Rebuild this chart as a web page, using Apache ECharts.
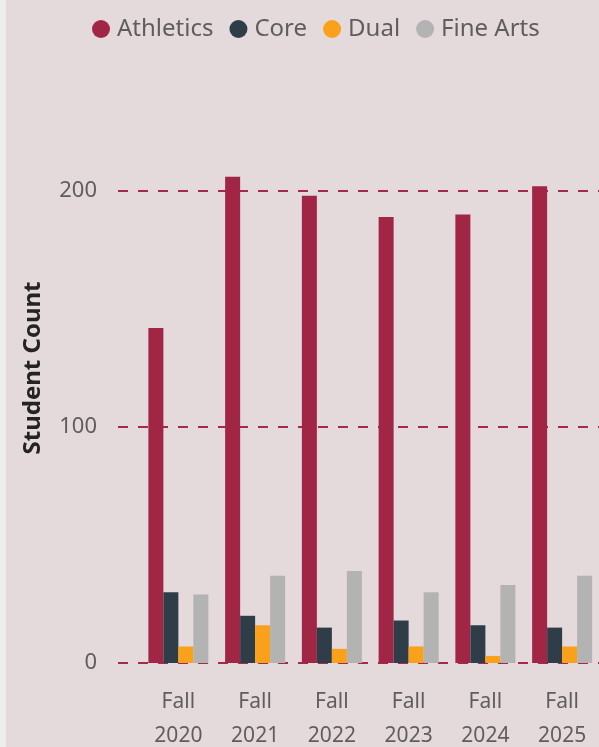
<!DOCTYPE html>
<html>
<head>
<meta charset="utf-8">
<script src="https://cdn.jsdelivr.net/npm/echarts@6/dist/echarts.min.js"></script>
<style>
html,body{margin:0;padding:0;background:#E4D9DB;}
#chart{width:599px;height:747px;}
</style>
</head>
<body>
<div id="chart"></div>
<script>
const categories = ["Fall\n2020", "Fall\n2021", "Fall\n2022", "Fall\n2023", "Fall\n2024", "Fall\n2025"];
const seriesNames = ["Athletics", "Core", "Dual", "Fine Arts"];
const athletics = [142, 206, 198, 189, 190, 202];
const core = [30, 20, 15, 18, 16, 15];
const dual = [7, 16, 6, 7, 3, 7];
const fineArts = [29, 37, 39, 30, 33, 37];
const yTicks = [0, 100, 200];

const colors = ["#A12544", "#2F3D48", "#F9A11B", "#B3B3B3"];
const values = [athletics, core, dual, fineArts];
const FONT = "Noto Sans";

const chart = echarts.init(document.getElementById('chart'), null, {renderer: 'canvas'});
chart.setOption({
  backgroundColor: '#E4D9DB',
  animation: false,
  graphic: [{type: 'rect', left: 0, top: 0, shape: {width: 6, height: 747}, style: {fill: '#ECEEEC'}}],
  legend: {
    top: 12,
    left: 87,
    icon: 'circle',
    itemWidth: 18,
    itemHeight: 18,
    itemGap: 16,
    textStyle: {fontFamily: FONT, fontSize: 24, color: '#605E5C', padding: [0, 0, 0, 2]},
    data: seriesNames
  },
  grid: [
    {left: 118, right: 0, top: 73, bottom: 84, outerBoundsMode: 'none', containLabel: false},
    {left: 140, right: -1.5, top: 73, bottom: 84, outerBoundsMode: 'none', containLabel: false}
  ],
  xAxis: [
    {gridIndex: 0, type: 'category', data: categories, show: false},
    {gridIndex: 1, type: 'category', data: categories,
     axisLine: {show: false}, axisTick: {show: false},
     axisLabel: {fontFamily: FONT, fontSize: 21, color: '#605E5C', lineHeight: 34, margin: 22}}
  ],
  yAxis: [
    {gridIndex: 0, type: 'value', min: 0, max: 250, interval: 100,
     name: 'Student Count', nameLocation: 'middle', nameGap: 73,
     nameTextStyle: {fontFamily: FONT, fontSize: 24, fontWeight: 'bold', color: '#252423'},
     axisLine: {show: false}, axisTick: {show: false},
     axisLabel: {fontFamily: FONT, fontSize: 22, color: '#605E5C', margin: 21, showMaxLabel: false,
       formatter: v => yTicks.includes(v) ? String(v) : ''},
     splitLine: {show: true, showMaxLine: false, lineStyle: {color: '#A3294F', width: 2, type: [10, 10]}}},
    {gridIndex: 1, type: 'value', min: 0, max: 250, interval: 100, show: false, splitLine: {show: false}}
  ],
  series: seriesNames.map((n, i) => ({
    name: n, type: 'bar', xAxisIndex: 1, yAxisIndex: 1,
    data: values[i], barWidth: 15, barGap: '0%',
    itemStyle: {color: colors[i]}
  }))
});
</script>
</body>
</html>
